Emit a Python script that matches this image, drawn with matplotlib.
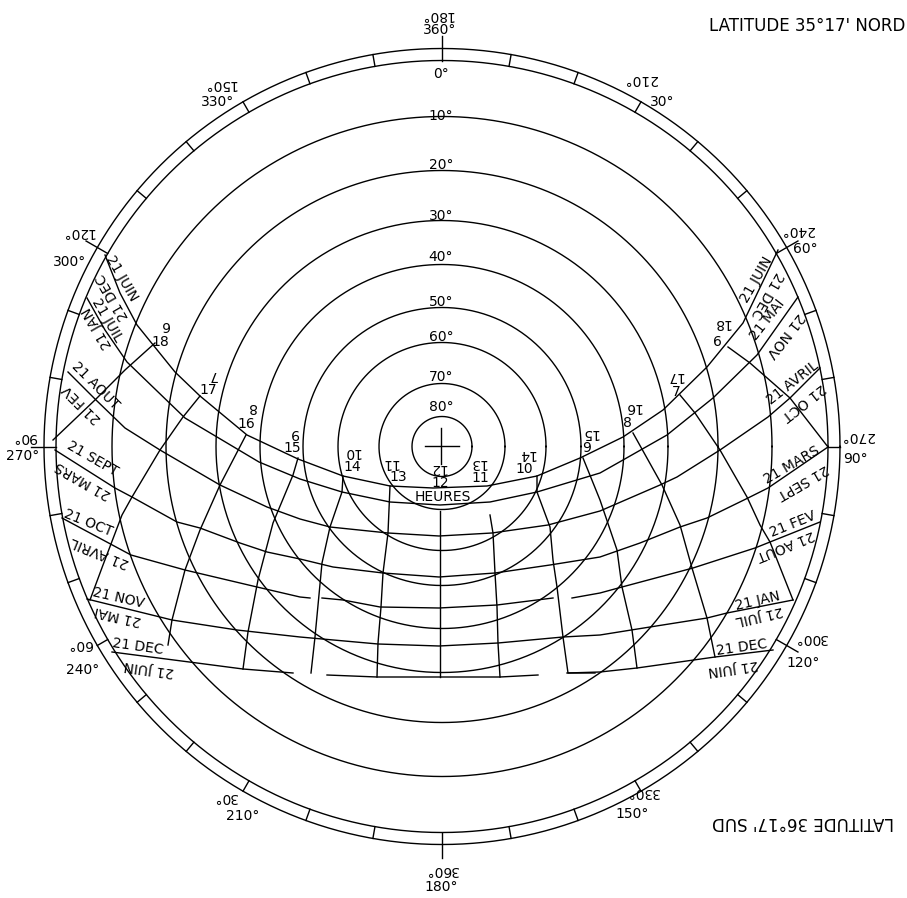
import numpy as np
import matplotlib
matplotlib.use('Agg')
import matplotlib.pyplot as plt

cx, cy = 442, 446.5

ring_alt = [0, 10, 20, 30, 40, 50, 60, 70, 80]
ring_r = [386, 330, 276, 226, 182, 139, 104, 63, 30]
ring_label_y = [74, 116, 165, 216, 257, 302, 337, 377, 407]
outer_r = 398
long_ticks = [0, 60, 120, 180, 270, 300]

# date curves, left to right (nan = gap in the line)
nan = float('nan')
jun_x = [105, 120, 137, 175, 200, 247, 298, 343, 390, 433, 487, 537, 580, 623, 663, 707, 743, 778]
jun_y = [255, 293, 325, 372, 396, 435, 459, 476, 486, 488, 486, 476, 458, 437, 410, 367, 323, 250]
may_x = [87, 105, 127, 185, 217, 259, 300, 342, 390, 440, 490, 537, 600, 623, 667, 713, 757, 798]
may_y = [298, 330, 362, 418, 437, 462, 479, 492, 502, 505, 502, 492, 473, 460, 435, 398, 355, 297]
apr_x = [68, 96, 125, 160, 220, 267, 300, 330, 388, 439, 492, 548, 600, 660, 677, 720, 768, 790, 820]
apr_y = [372, 400, 428, 450, 485, 507, 519, 527, 533, 536, 533, 525, 511, 485, 477, 450, 417, 398, 368]
mar_x = [55, 115, 132, 177, 200, 240, 267, 300, 333, 383, 439, 495, 550, 600, 640, 680, 707, 748, 768, 828]
mar_y = [450, 488, 497, 522, 528, 543, 552, 559, 567, 573, 577, 573, 565, 557, 543, 527, 518, 498, 488, 447]
feb_x = [62, 131, 185, 257, 300, 310, nan, 322, 343, 380, 439, 497, 553, nan, 572, 600, 622, 693, 755, 770, 820]
feb_y = [518, 555, 570, 587, 597, 598, nan, 598, 600, 607, 608, 605, 598, nan, 598, 593, 587, 568, 548, 542, 522]
jan_x = [87, 160, 172, 237, 300, 378, 439, 498, 563, 600, 650, 707, 727, 793]
jan_y = [599, 617, 620, 630, 637, 644, 646, 643, 637, 635, 627, 618, 613, 600]
dec_x = [112, 197, 243, 293, nan, 327, 377, 500, 538, nan, 567, 600, 637, 715, 773]
dec_y = [652, 663, 669, 673, nan, 675, 677, 677, 675, nan, 673, 672, 668, 657, 650]
date_curves = [(jun_x, jun_y), (may_x, may_y), (apr_x, apr_y), (mar_x, mar_y),
               (feb_x, feb_y), (jan_x, jan_y), (dec_x, dec_y)]

# hour lines
h18_x, h18_y = [155, 125, 95, 53], [343, 370, 400, 440]
h17_x, h17_y = [200, 183, 160, 132, 122, 103, 90], [396, 417, 450, 497, 515, 565, 600]
h16_x, h16_y = [246, 220, 200, 185, 172, 168], [435, 485, 530, 570, 620, 645]
h15_x, h15_y = [298, 293, 273, 258, 248, 243], [458, 475, 523, 580, 632, 669]
h14_x, h14_y = [343, 342, 330, 322, 315, 311], [476, 492, 527, 563, 637, 673]
h13_x, h13_y = [390, 388, 383, 381, 378, 377], [486, 533, 573, 607, 643, 677]
h12_x, h12_y = [440, 440], [511, 677]
h11_x, h11_y = [490, 493, 495, 497, 498, 500], [515, 533, 573, 607, 643, 677]
h10_x, h10_y = [537, 537, 550, 553, 557, 563, 568, 595], [476, 492, 527, 560, 587, 637, 673, 673]
h9_x, h9_y = [583, 600, 617, 622, 632, 637], [458, 500, 550, 587, 630, 668]
h8_x, h8_y = [633, 662, 680, 692, 707, 715], [433, 485, 525, 568, 618, 657]
h7_x, h7_y = [680, 695, 720, 747, 760, 770, 793], [395, 413, 450, 497, 525, 542, 600]
h6_x, h6_y = [728, 750, 790, 828], [347, 363, 398, 447]
hour_lines = [(h18_x, h18_y), (h17_x, h17_y), (h16_x, h16_y), (h15_x, h15_y), (h14_x, h14_y),
              (h13_x, h13_y), (h12_x, h12_y), (h11_x, h11_y), (h10_x, h10_y), (h9_x, h9_y),
              (h8_x, h8_y), (h7_x, h7_y), (h6_x, h6_y)]

# azimuth labels: upright one, then the one turned over for the south
az_labels = [('360°', 440, 30, '180°', 437, 15), ('30°', 662, 102, '210°', 640, 79),
             ('60°', 805, 249, '240°', 797, 230), ('90°', 855, 459, '270°', 857, 436),
             ('120°', 803, 663, '300°', 810, 638), ('150°', 632, 814, '330°', 642, 792),
             ('180°', 441, 887, '360°', 441, 870), ('210°', 243, 816, '30°', 225, 797),
             ('240°', 83, 670, '60°', 80, 644), ('270°', 23, 456, '90°', 25, 437),
             ('300°', 70, 262, '120°', 78, 232), ('330°', 218, 102, '150°', 220, 84)]

hour_labels = [('18', 160, 342, '6', 165, 325), ('17', 208, 390, '7', 213, 375),
               ('16', 246, 424, '8', 252, 407), ('15', 292, 448, '9', 295, 433),
               ('14', 352, 467, '10', 352, 452), ('13', 398, 477, '11', 390, 463),
               ('12', 440, 483, '12', 438, 468), ('11', 480, 478, '13', 478, 463),
               ('10', 524, 469, '14', 527, 454), ('9', 587, 448, '15', 590, 433),
               ('8', 627, 423, '16', 633, 407), ('7', 676, 392, '17', 675, 376),
               ('6', 717, 342, '18', 722, 323)]

date_labels = [('21 JUIN', 122, 278, -60), ('21 DEC', 113, 297, 120),
               ('21 JUIL', 107, 320, -60), ('21 JAN', 98, 328, 120),
               ('21 AOUT', 95, 386, -45), ('21 FEV', 82, 404, 135),
               ('21 SEPT', 92, 459, -30), ('21 MARS', 83, 480, 150),
               ('21 OCT', 88, 523, -22), ('21 AVRIL', 100, 552, 158),
               ('21 NOV', 118, 598, -13), ('21 MAI', 118, 616, 167),
               ('21 DEC', 138, 647, -8), ('21 JUIN', 149, 668, 172),
               ('21 JUIN', 757, 280, 60), ('21 DEC', 767, 295, -120),
               ('21 MAI', 767, 320, 52), ('21 NOV', 785, 335, -128),
               ('21 AVRIL', 793, 383, 38), ('21 OCT', 803, 402, -142),
               ('21 MARS', 792, 465, 30), ('21 SEPT', 803, 482, -150),
               ('21 FEV', 793, 524, 22), ('21 AOUT', 785, 545, -158),
               ('21 JAN', 758, 601, 13), ('21 JUIL', 759, 615, -167),
               ('21 DEC', 742, 647, 8), ('21 JUIN', 733, 667, -172)]

fig = plt.figure(figsize=(9.07, 8.98), dpi=100)
ax = fig.add_axes([0, 0, 1, 1])
ax.set_xlim(0, 907)
ax.set_ylim(898, 0)
ax.axis('off')

LW = 1.0
FS = 10


def txt(s, x, y, rot=0, fs=FS):
    ax.text(x, y, s, fontsize=fs, rotation=rot, rotation_mode='anchor',
            ha='center', va='center', color='black')


theta = np.linspace(0, 2 * np.pi, 721)
for r in ring_r + [outer_r]:
    ax.plot(cx + r * np.cos(theta), cy + r * np.sin(theta), color='black', lw=LW)

# ticks every 10 degrees between the two outer rings, a few run on outside
for az in range(0, 360, 10):
    a = np.radians(az)
    r_end = 411 if az in long_ticks else outer_r
    ax.plot([cx + ring_r[0] * np.sin(a), cx + r_end * np.sin(a)],
            [cy - ring_r[0] * np.cos(a), cy - r_end * np.cos(a)], color='black', lw=LW)

# centre cross
ax.plot([cx - 17, cx + 17], [cy - 1, cy - 1], color='black', lw=LW)
ax.plot([cx - 1, cx - 1], [cy - 19, cy + 17], color='black', lw=LW)

for xs, ys in date_curves:
    ax.plot(xs, ys, color='black', lw=LW)
for xs, ys in hour_lines:
    ax.plot(xs, ys, color='black', lw=LW)

for alt, y in zip(ring_alt, ring_label_y):
    txt(f'{alt}°', 441, y)

for up, x1, y1, down, x2, y2 in az_labels:
    txt(up, x1, y1)
    txt(down, x2, y2, 180)

for up, x1, y1, down, x2, y2 in hour_labels:
    txt(up, x1, y1)
    txt(down, x2, y2, 180)

for s, x, y, rot in date_labels:
    txt(s, x, y, rot)

txt('HEURES', 443, 497)
txt("LATITUDE 35°17' NORD", 807, 26, fs=12)
txt("LATITUDE 36°17' SUD", 803, 822, 180, fs=12)

fig.savefig('out.png', dpi=100)
